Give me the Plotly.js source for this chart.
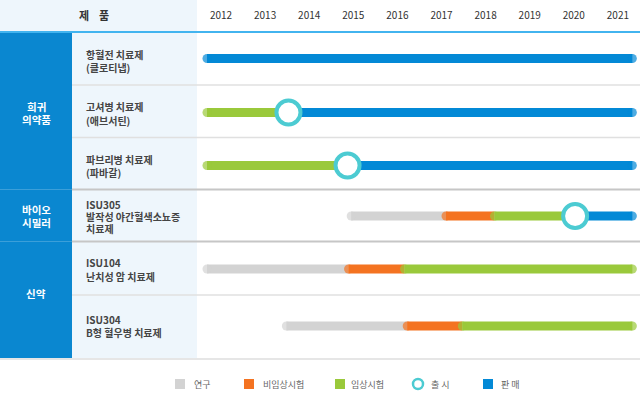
<!DOCTYPE html>
<html>
<head>
<meta charset="utf-8">
<script src="https://cdn.plot.ly/plotly-3.0.1.min.js"></script>
<style>html,body{margin:0;padding:0;background:#fff;}#chart{width:640px;height:401px;}</style>
</head>
<body>
<div id="chart"></div>
<script>
// ---------- DATA ----------
const years = [2012, 2013, 2014, 2015, 2016, 2017, 2018, 2019, 2020, 2021];
const groups = [['희귀', '의약품'], ['바이오', '시밀러'], ['신약']];
const products = [
  ['항혈전 치료제', '(클로티냅)'],
  ['고셔병 치료제', '(애브서틴)'],
  ['파브리병 치료제', '(파바갈)'],
  ['ISU305', '발작성 야간혈색소뇨증', '치료제'],
  ['ISU104', '난치성 암 치료제'],
  ['ISU304', 'B형 혈우병 치료제']
];
// stage start years per product (null = stage not shown)
const researchStart    = [null, null, null, 2014.85, 2011.58, 2013.38];
const preclinicalStart = [null, null, null, 2017.0, 2014.79, 2016.12];
const clinicalStart    = [null, 2011.58, 2011.58, 2018.1, 2016.06, 2017.37];
const launchYear       = [null, 2013.53, 2014.87, 2020.03, null, null];
const salesStart       = [2011.58, 2013.53, 2014.87, 2020.03, null, null];
const timelineEnd = 2021.43;
const headerLabel = '제\u00A0\u00A0\u00A0\u00A0품';
const legendLabels = ['연구', '비임상시험', '임상시험', '출 시', '판 매'];

// ---------- STYLE / LAYOUT CONSTANTS ----------
const W = 640, H = 401;
const FONT = 'Noto Sans CJK KR, Noto Sans, sans-serif';
const stageColors = ['#d3d3d3', '#f47321', '#9ac93b', '#0389d6'];
const launchColor = '#4ccbd2';
const pxPerYear = 44.1, year0px = 221;
const xRange = [2012 - year0px / pxPerYear, 2012 + (W - year0px) / pxPerYear];
const rowBounds = [32, 85, 137.5, 189.5, 241.5, 295, 358];
const rowCenters = [58.5, 112.5, 165.5, 216, 269, 326];
const labelCenters = [61, 113.5, 166, 216.5, 269.5, 326];
const groupCenters = [112.5, 216, 293];
const lineW = 9;
const r = (lineW / 2) / pxPerYear;

const stages = [researchStart, preclinicalStart, clinicalStart, salesStart];
const traces = [];
stages.forEach((arr, si) => {
  const xs = [], ys = [], sizes = [];
  arr.forEach((s, ri) => {
    if (s === null) return;
    let next = null;
    for (let k = si + 1; k < stages.length; k++) {
      if (stages[k][ri] !== null) { next = stages[k][ri]; break; }
    }
    const last = next === null;
    xs.push(s + r, last ? timelineEnd - r : next + r, null);
    ys.push(rowCenters[ri], rowCenters[ri], null);
    sizes.push(lineW, last ? lineW : 0, 0);
  });
  traces.push({
    type: 'scatter', mode: 'lines+markers', x: xs, y: ys,
    line: {color: stageColors[si], width: lineW},
    marker: {color: stageColors[si], size: sizes, symbol: 'circle', line: {width: 0}},
    connectgaps: false, hoverinfo: 'skip', showlegend: false
  });
});
const lx = [], ly = [];
launchYear.forEach((v, ri) => { if (v !== null) { lx.push(v); ly.push(rowCenters[ri]); } });
traces.push({
  type: 'scatter', mode: 'markers', x: lx, y: ly,
  marker: {size: 24, color: '#ffffff', line: {color: launchColor, width: 4}},
  hoverinfo: 'skip', showlegend: false
});

const px = v => v / W;
const shapes = [
  {type: 'rect', xref: 'paper', yref: 'y', x0: 0, x1: px(197), y0: 0, y1: 32, fillcolor: '#eef6fc', line: {width: 0}, layer: 'below'},
  {type: 'rect', xref: 'paper', yref: 'y', x0: px(72), x1: px(197), y0: 32, y1: 358, fillcolor: '#eef6fc', line: {width: 0}, layer: 'below'},
  {type: 'rect', xref: 'paper', yref: 'y', x0: 0, x1: px(72), y0: 32, y1: 358, fillcolor: '#0a87d0', line: {width: 0}, layer: 'below'},
  {type: 'line', xref: 'paper', yref: 'y', x0: 0, x1: 1, y0: 32, y1: 32, line: {color: '#42b4ef', width: 2}, layer: 'below'},
  {type: 'line', xref: 'paper', yref: 'y', x0: 0, x1: 1, y0: 359, y1: 359, line: {color: '#e6e6e6', width: 2}, layer: 'below'}
];
[1, 2, 5].forEach(i => shapes.push({type: 'line', xref: 'paper', yref: 'y', x0: px(72), x1: 1, y0: rowBounds[i], y1: rowBounds[i], line: {color: '#e0e0e0', width: 1.5}, layer: 'below'}));
[3, 4].forEach(i => {
  shapes.push({type: 'line', xref: 'paper', yref: 'y', x0: px(72), x1: 1, y0: rowBounds[i], y1: rowBounds[i], line: {color: '#c6c6c6', width: 2}, layer: 'below'});
  shapes.push({type: 'line', xref: 'paper', yref: 'y', x0: 0, x1: px(72), y0: rowBounds[i], y1: rowBounds[i], line: {color: 'rgba(255,255,255,0.2)', width: 1}, layer: 'below'});
});

const annotations = [];
function addLines(lines, xPx, centerY, spacing, font, anchor) {
  const n = lines.length;
  lines.forEach((t, k) => {
    annotations.push({xref: 'paper', yref: 'y', x: px(xPx), y: centerY + (k - (n - 1) / 2) * spacing,
      text: t, showarrow: false, font: font, xanchor: anchor, yanchor: 'middle', borderpad: 0});
  });
}
annotations.push({xref: 'paper', yref: 'y', x: px(94), y: 15, text: headerLabel, showarrow: false, borderpad: 0,
  font: {family: FONT, size: 11, color: '#333', weight: 700}, xanchor: 'center', yanchor: 'middle'});
groups.forEach((g, i) => addLines(g, 36, groupCenters[i] - (g.length > 1 ? 0 : 0), 13,
  {family: FONT, size: 10.5, color: '#ffffff', weight: 700}, 'center'));
products.forEach((p, i) => addLines(p, 85, labelCenters[i], p.length > 2 ? 11.8 : 13.5,
  {family: FONT, size: 10, color: '#444', weight: 700}, 'left'));

// legend
const legendX = [175, 244, 335, 412, 483];
const legendTextX = [193, 262, 350, 430, 500];
const legendY = 384;
legendLabels.forEach((lab, i) => {
  if (i === 3) {
    shapes.push({type: 'circle', xref: 'paper', yref: 'y', x0: px(legendX[i] + 1), x1: px(legendX[i] + 11), y0: legendY - 5, y1: legendY + 5,
      fillcolor: '#fff', line: {color: launchColor, width: 2.5}});
  } else {
    const c = stageColors[i < 3 ? i : 3];
    shapes.push({type: 'rect', xref: 'paper', yref: 'y', x0: px(legendX[i]), x1: px(legendX[i] + 10), y0: legendY - 5, y1: legendY + 5,
      fillcolor: c, line: {width: 0}});
  }
  annotations.push({xref: 'paper', yref: 'y', x: px(legendTextX[i]), y: legendY, text: lab, showarrow: false, borderpad: 0,
    font: {family: FONT, size: 9, color: '#666'}, xanchor: 'left', yanchor: 'middle'});
});

const layout = {
  width: W, height: H,
  margin: {l: 0, r: 0, t: 0, b: 0, pad: 0},
  paper_bgcolor: '#fff', plot_bgcolor: 'rgba(0,0,0,0)',
  showlegend: false,
  font: {family: FONT},
  xaxis: {range: xRange, domain: [0, 1], side: 'top', anchor: 'free', position: 1 - 21 / H,
    tickvals: years, ticktext: years.map(String), ticks: '', showgrid: false, zeroline: false, showline: false,
    tickfont: {family: FONT, size: 10, color: '#333'}, fixedrange: true, automargin: false},
  yaxis: {range: [H, 0], domain: [0, 1], visible: false, showgrid: false, zeroline: false, fixedrange: true},
  shapes: shapes,
  annotations: annotations
};
Plotly.newPlot('chart', traces, layout, {displayModeBar: false, staticPlot: true});
</script>
</body>
</html>
